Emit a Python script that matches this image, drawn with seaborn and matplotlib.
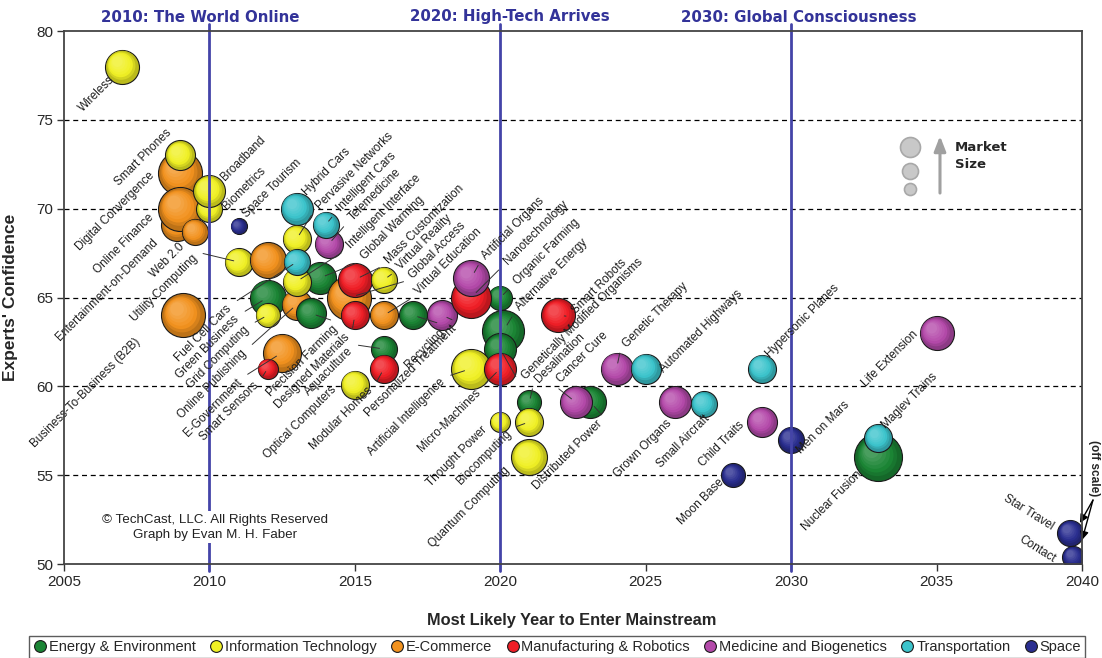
import numpy as np
import pandas as pd
import matplotlib
matplotlib.use("Agg")
import matplotlib.pyplot as plt
import matplotlib.colors as mcolors
import seaborn as sns
from matplotlib.lines import Line2D

# ---------------- data ----------------
categories = ["Energy & Environment", "Information Technology", "E-Commerce",
              "Manufacturing & Robotics", "Medicine and Biogenetics",
              "Transportation", "Space"]
cat_colors = ["#1b8535", "#f0f024", "#f2921e", "#f01e26", "#b44aaa", "#3cc4cc", "#2a2e90"]

E, I, C, M, B, T, S = range(7)

names = ["Wireless", "Entertainment-on-Demand", "Digital Convergence", "Online Finance", "Web 2.0",
         "Smart Phones", "Business-To-Business (B2B)", "Biometrics", "Broadband", "Space Tourism",
         "Utility Computing", "E-Tailing", "Hybrid Cars", "Pervasive Networks", "Telemedicine",
         "Intelligent Cars", "Global Warming", "Green Business", "Online Publishing", "Grid Computing",
         "Precision Farming", "Intelligent Interface", "Fuel Cell Cars", "Global Access",
         "Mass Customization", "Virtual Reality", "Designed Materials", "Virtual Education",
         "Recycling", "Personalized Treatment", "E-Government", "Smart Sensors", "Aquaculture",
         "Modular Homes", "Optical Computers", "Alternative Energy", "Genetically Modified Organisms",
         "Organic Farming", "Nanotechnology", "Artificial Organs", "Artificial Intelligence",
         "Micro-Machines", "Smart Robots", "Desalination", "Biocomputing", "Thought Power",
         "Quantum Computing", "Distributed Power", "Cancer Cure", "Genetic Therapy",
         "Automated Highways", "Grown Organs", "Small Aircraft", "Hypersonic Planes", "Child Traits",
         "Men on Mars", "Moon Base", "Life Extension", "Nuclear Fusion", "Maglev Trains",
         "Contact", "Star Travel"]

category_idx = [I, C, C, C, C,
                I, C, I, I, S,
                I, C, T, I, B,
                T, E, E, C, I,
                E, I, T, C,
                M, I, M, C,
                E, B, C, M, E,
                M, I, E, E,
                E, M, B, I,
                M, M, E, I, I,
                I, E, B, B,
                T, B, T, T, B,
                S, S, B, E, T,
                S, S]

years = [2007.0, 2008.9, 2009.0, 2009.0, 2009.5,
         2009.0, 2009.1, 2010.0, 2010.0, 2011.0,
         2011.0, 2012.0, 2013.0, 2013.0, 2014.1,
         2014.0, 2013.8, 2012.0, 2013.0, 2012.0,
         2013.5, 2013.0, 2013.0, 2014.8,
         2015.0, 2016.0, 2015.0, 2016.0,
         2017.0, 2018.0, 2012.5, 2012.0, 2016.0,
         2016.0, 2015.0, 2020.1, 2020.0,
         2020.0, 2019.0, 2019.0, 2019.0,
         2020.0, 2022.0, 2021.0, 2021.0, 2020.0,
         2021.0, 2023.1, 2022.6, 2024.0,
         2025.0, 2026.0, 2027.0, 2029.0, 2029.0,
         2030.0, 2028.0, 2035.0, 2033.0, 2033.0,
         2039.7, 2039.6]

confidence = [78.0, 69.1, 72.0, 70.0, 68.7,
              73.0, 64.0, 70.0, 71.0, 69.0,
              67.0, 67.1, 70.0, 68.3, 68.0,
              69.1, 66.1, 65.0, 64.6, 64.0,
              64.1, 65.9, 67.0, 65.0,
              66.0, 66.0, 64.0, 64.0,
              64.0, 64.0, 61.9, 61.0, 62.1,
              61.0, 60.1, 63.1, 62.1,
              65.0, 65.0, 66.1, 61.0,
              61.0, 64.0, 59.1, 58.0, 58.0,
              56.0, 59.1, 59.1, 61.0,
              61.0, 59.1, 59.0, 61.0, 58.0,
              57.0, 55.0, 63.0, 56.0, 57.1,
              50.4, 51.75]

# relative market size (bubble radius units)
market_size = [17, 16, 22, 22, 13,
               15, 22, 13, 16, 8,
               14, 18, 16, 14, 14,
               13, 16, 18, 15, 12,
               15, 14, 13, 22,
               17, 13, 14, 14,
               14, 15, 19, 10, 13,
               14, 14, 21, 16,
               12, 20, 18, 20,
               16, 17, 12, 14, 10,
               18, 16, 16, 16,
               15, 16, 13, 14, 15,
               13, 12, 17, 24, 14,
               11, 13]

era_years = [2010, 2020, 2030]
era_titles = ["2010: The World Online", "2020: High-Tech Arrives", "2030: Global Consciousness"]

x_ticks = [2005, 2010, 2015, 2020, 2025, 2030, 2035, 2040]
y_ticks = [50, 55, 60, 65, 70, 75, 80]

# ---------------- label layout (offset px from bubble, side, leader line) ----------------
label_layout = [
    ("Wireless", -10, -12, "ll", False),
    ("Smart Phones", -11, 24, "ll", False),
    ("Digital Convergence", -28, -1, "ll", False),
    ("Online Finance", -28, -7, "ll", False),
    ("Entertainment-on-Demand", -21, -16, "ll", False),
    ("Web 2.0", -12, -13, "ll", False),
    ("Utility Computing", -43, 5, "ll", True),
    ("Business-To-Business (B2B)", -45, -25, "ll", False),
    ("Broadband", 13, 12, "ur", False),
    ("Biometrics", 15, 1, "ur", False),
    ("Space Tourism", 6, 11, "ur", False),
    ("Hybrid Cars", 8, 15, "ur", False),
    ("Pervasive Networks", 21, 31, "ur", True),
    ("Intelligent Cars", 13, 15, "ur", True),
    ("Telemedicine", 22, 25, "ur", True),
    ("Intelligent Interface", 52, 35, "ur", True),
    ("Global Warming", 43, 20, "ur", True),
    ("Mass Customization", 32, 18, "ur", True),
    ("Virtual Reality", 15, 12, "ur", True),
    ("Global Access", 62, 21, "ur", True),
    ("Virtual Education", 33, 22, "ur", True),
    ("Fuel Cell Cars", -67, -45, "ll", True),
    ("Green Business", -30, -20, "ll", True),
    ("Grid Computing", -20, -13, "ll", True),
    ("Online Publishing", -52, -47, "ll", True),
    ("E-Government", -42, -28, "ll", True),
    ("Smart Sensors", -11, -15, "ll", True),
    ("Precision Farming", 25, -14, "ll", True),
    ("Designed Materials", -7, -20, "ll", True),
    ("Aquaculture", -33, 0, "ll", True),
    ("Optical Computers", -20, -3, "ll", False),
    ("Modular Homes", -13, -20, "ll", True),
    ("Recycling", 30, -15, "ll", True),
    ("Personalized Treatment", 13, -12, "ll", True),
    ("Artificial Intelligence", -28, -12, "ll", True),
    ("Micro-Machines", -22, -22, "ll", True),
    ("Artificial Organs", 13, 20, "ur", True),
    ("Nanotechnology", 35, 35, "ur", True),
    ("Organic Farming", 15, 15, "ur", True),
    ("Alternative Energy", 15, 22, "ur", True),
    ("Smart Robots", 15, 3, "ur", True),
    ("Genetically Modified Organisms", 23, -29, "ur", True),
    ("Desalination", 8, 21, "ur", True),
    ("Cancer Cure", -17, 21, "ur", True),
    ("Genetic Therapy", 8, 23, "ur", True),
    ("Automated Highways", 16, -2, "ur", False),
    ("Hypersonic Planes", 6, 13, "ur", False),
    ("Grown Organs", -5, -19, "ll", False),
    ("Small Aircraft", 4, -13, "ll", False),
    ("Child Traits", -20, -1, "ll", False),
    ("Men on Mars", 8, -12, "ur", False),
    ("Moon Base", -11, -5, "ll", False),
    ("Life Extension", -20, 0, "ll", False),
    ("Maglev Trains", 5, 11, "ur", False),
    ("Nuclear Fusion", -18, -15, "ll", False),
    ("Thought Power", -15, -6, "ll", False),
    ("Biocomputing", -20, -10, "ll", True),
    ("Quantum Computing", -22, -11, "ll", False),
    ("Distributed Power", 10, -20, "ll", True),
    ("Star Travel", -18, 6, "flat", False),
    ("Contact", -19, -3, "flat", False),
]

# ---------------- build ----------------
df = pd.DataFrame({
    "name": names,
    "category": [categories[i] for i in category_idx],
    "year": years,
    "confidence": confidence,
    "market": market_size,
})
df["area"] = (1.44 * df["market"]) ** 2

sns.set_style("white")
plt.rcParams["font.family"] = ["Liberation Sans", "DejaVu Sans"]

W, H = 1102, 658
fig = plt.figure(figsize=(W / 100, H / 100), dpi=100)
ax = fig.add_axes([64 / W, 1 - 564 / H, 1018 / W, 533 / H])
ax.set_xlim(2005, 2040)
ax.set_ylim(50, 80)


def blend(c, other, t):
    a = np.array(mcolors.to_rgb(c))
    b = np.array(mcolors.to_rgb(other))
    return tuple(a * (1 - t) + b * t)


rim_colors = [blend(c, "black", 0.22) for c in cat_colors]

# grid
for yv in y_ticks[1:-1]:
    ax.axhline(yv, color="black", lw=0.9, ls=(0, (4, 3)), zorder=1)

# pixel scale of the data axes (for the shading offsets)
p0 = ax.transData.transform((2005, 50))
p1 = ax.transData.transform((2006, 51))
px_x, px_y = p1[0] - p0[0], p1[1] - p0[1]

# bubbles: one seaborn call per bubble keeps the overlap order, then a soft highlight
n_layers = 7
for i in range(len(df)):
    row = df.iloc[[i]]
    sns.scatterplot(data=row, x="year", y="confidence", hue="category", hue_order=categories,
                    palette=rim_colors, size="area", sizes=(0, 1600), size_norm=(0, 1600),
                    edgecolor="#1a1a1a", linewidth=0.8, alpha=1.0, legend=False, ax=ax, zorder=3)
    base = cat_colors[category_idx[i]]
    r = market_size[i]
    xs, ys, ss, cs = [], [], [], []
    for k in range(n_layers):
        f = k / (n_layers - 1)
        rad = r * (0.93 - 0.62 * f)
        off = r * 0.28 * f
        xs.append(years[i] - off / px_x)
        ys.append(confidence[i] + off / px_y)
        ss.append((1.44 * rad) ** 2)
        if f < 0.35:
            cs.append(blend(rim_colors[category_idx[i]], base, f / 0.35))
        else:
            cs.append(blend(base, "white", (f - 0.35) * 0.32))
    ax.scatter(xs, ys, s=ss, c=cs, linewidths=0, zorder=3)

ax.set_xticks(x_ticks)
ax.set_yticks(y_ticks)
ax.tick_params(axis="both", labelsize=11, length=5, width=1, direction="out", color="#333333",
               pad=3, bottom=True, left=True)
for sp in ax.spines.values():
    sp.set_color("#444444")
    sp.set_linewidth(1.3)
    sp.set_zorder(7)

ax.set_xlabel("Most Likely Year to Enter Mainstream", fontsize=11.8, fontweight="bold")
ax.set_ylabel("Experts' Confidence", fontsize=12.5, fontweight="bold")
ax.xaxis.set_label_coords(0.499, -0.092)
ax.yaxis.set_label_coords(-0.045, 0.5)

# era lines & titles
era_shift_px = [-9, 10, 8]
for yr, title, sh in zip(era_years, era_titles, era_shift_px):
    ax.axvline(yr, ymin=-0.013, ymax=1.013, color="#4444a8", lw=2.0, zorder=4, clip_on=False)
    ax.annotate(title, xy=(yr, 1.0), xycoords=("data", "axes fraction"),
                xytext=(sh, 14), textcoords="offset pixels", ha="center", va="center",
                fontsize=10.8, fontweight="bold", color="#333399", family="DejaVu Sans",
                annotation_clip=False)

# labels
pos = {n: (x, y, r) for n, x, y, r in zip(df["name"], df["year"], df["confidence"], df["market"])}
for name, dx, dy, side, leader in label_layout:
    x, y, r = pos[name]
    if side == "ur":
        ha, rot, rel = "left", 45, (0, 0)
    elif side == "ll":
        ha, rot, rel = "right", 45, (1, 1)
    else:
        ha, rot, rel = "right", -32, (1, 0.5)
    kw = {}
    if leader:
        kw["arrowprops"] = dict(arrowstyle="-", color="#333333", lw=0.7, shrinkA=0,
                                shrinkB=r * 0.72 * 0.35, relpos=rel)
    ax.annotate(name, xy=(x, y), xytext=(dx, dy), textcoords="offset pixels",
                rotation=rot, rotation_mode="anchor", ha=ha, va="center",
                fontsize=8.5, color="#1e1e1e", zorder=6, annotation_clip=False, **kw)

# copyright
ax.text(0.148, 0.069, "\u00a9 TechCast, LLC. All Rights Reserved\nGraph by Evan M. H. Faber",
        transform=ax.transAxes, ha="center", va="center", fontsize=9.6, linespacing=1.3,
        color="#222222", zorder=6,
        bbox=dict(facecolor="white", edgecolor="none", pad=2))

# market size key
key_x = 0.831
for ky, ks in zip([0.782, 0.737, 0.704], [207, 133, 75]):
    ax.scatter([key_x], [ky], s=ks, transform=ax.transAxes, color="#c8c8c8",
               edgecolor="#a8a8a8", linewidth=1.2, zorder=5, clip_on=False)
ax.annotate("", xy=(0.8605, 0.803), xytext=(0.8605, 0.696), xycoords="axes fraction",
            arrowprops=dict(arrowstyle="-|>,head_width=0.35,head_length=0.9", color="#a0a0a0",
                            lw=2.2, shrinkA=0, shrinkB=0))
ax.text(0.875, 0.782, "Market", transform=ax.transAxes, fontsize=9.5, fontweight="bold",
        ha="left", va="center", family="DejaVu Sans")
ax.text(0.875, 0.750, "Size", transform=ax.transAxes, fontsize=9.5, fontweight="bold",
        ha="left", va="center", family="DejaVu Sans")

# off scale note
fig.text(1094 / W, 1 - 468 / H, "(off scale)", rotation=270, fontsize=8.5, fontweight="bold",
         ha="center", va="center")
for tx, ty in [(0.998, 0.077), (1.0, 0.045)]:
    ax.annotate("", xy=(tx, ty), xytext=(1.0108, 0.12), xycoords="axes fraction",
                arrowprops=dict(arrowstyle="-|>,head_width=0.25,head_length=0.5", color="black",
                                lw=1.0, shrinkA=0, shrinkB=0), annotation_clip=False)

# legend
handles = [Line2D([0], [0], marker="o", ls="none", markersize=8.5, markerfacecolor=c,
                  markeredgecolor="#1a1a1a", markeredgewidth=0.8) for c in cat_colors]
leg = fig.legend(handles, categories, loc="center", bbox_to_anchor=(557 / W, 1 - 647 / H),
                 ncol=7, frameon=True, fancybox=False, handletextpad=0.1, columnspacing=0.9,
                 borderpad=0.25, handlelength=1.0, borderaxespad=0,
                 prop={"family": ["Liberation Sans Narrow", "Liberation Sans"], "size": 10.5})
leg.get_frame().set_edgecolor("#333333")
leg.get_frame().set_linewidth(1.0)

fig.savefig("out.png", dpi=100)
